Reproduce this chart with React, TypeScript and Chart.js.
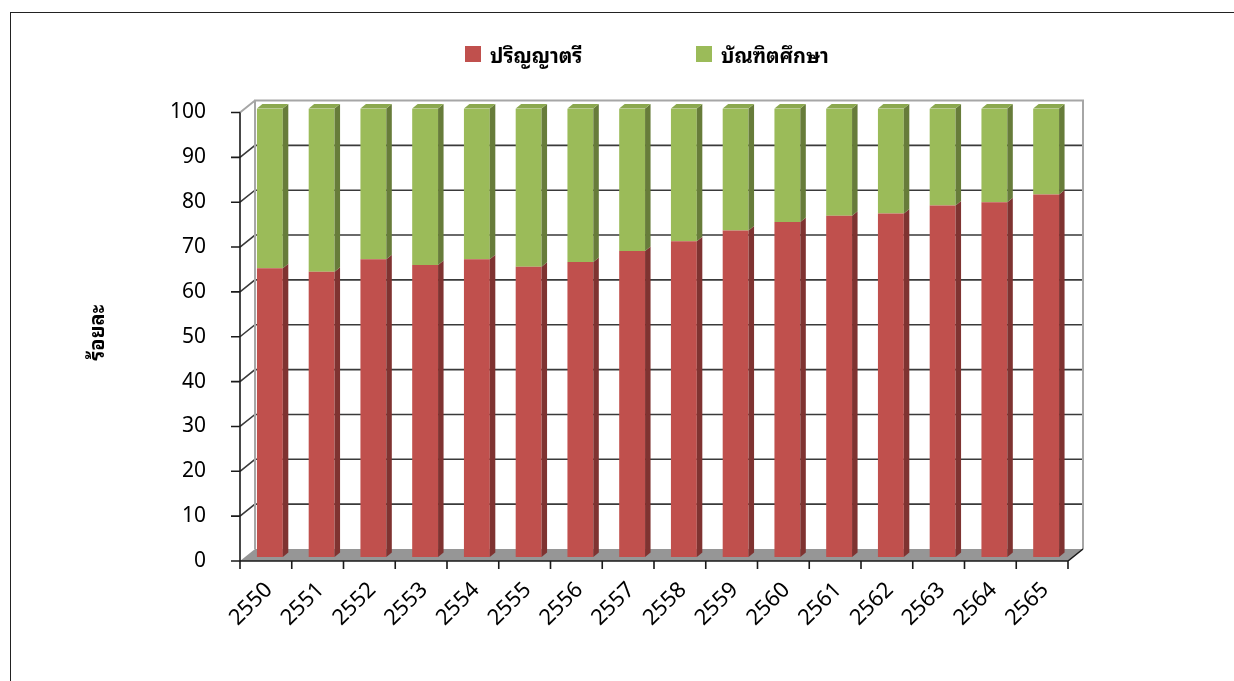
import React, { useEffect, useRef } from "react";
import { Chart, registerables } from "chart.js";

Chart.register(...registerables);

const years = ["2550", "2551", "2552", "2553", "2554", "2555", "2556", "2557", "2558", "2559", "2560", "2561", "2562", "2563", "2564", "2565"];
const bachelor = [64.4, 63.6, 66.4, 65.1, 66.4, 64.7, 65.8, 68.2, 70.4, 72.8, 74.7, 76.1, 76.6, 78.4, 79.1, 80.8];
const graduate = [35.6, 36.4, 33.6, 34.9, 33.6, 35.3, 34.2, 31.8, 29.6, 27.2, 25.3, 23.9, 23.4, 21.6, 20.9, 19.2];
const seriesNames = ["ปริญญาตรี", "บัณฑิตศึกษา"];
const yTitle = "ร้อยละ";

const RED = "#C0504D";
const GREEN = "#9BBB59";
const RED_SIDE = "#7F3331";
const GREEN_SIDE = "#677C3A";
const GREEN_TOP = "#8BA84F";
const THAI_FONT = "Tahoma, 'Noto Sans Thai Looped', 'Noto Sans Thai', 'Noto Sans', 'DejaVu Sans', sans-serif";
const NUM_FONT = "'Noto Sans', 'Open Sans', sans-serif";

// depth offsets relative to the bar-face plane
const FRONT = { dx: -4, dy: 4 };
const BACK = { dx: 11, dy: -8 };
const BAR_DEPTH = { dx: 5.5, dy: -4.5 };

const frame3d = {
  id: "frame3d",
  beforeDatasetsDraw(chart: any) {
    const { ctx, chartArea } = chart;
    const y = chart.scales.y;
    const x = chart.scales.x;
    const L = chartArea.left, R = chartArea.right;
    const y0 = y.getPixelForValue(0);
    const y100 = y.getPixelForValue(100);
    ctx.save();
    // floor
    ctx.fillStyle = "#969696";
    ctx.beginPath();
    ctx.moveTo(L + FRONT.dx, y0 + FRONT.dy);
    ctx.lineTo(R + FRONT.dx, y0 + FRONT.dy);
    ctx.lineTo(R + BACK.dx, y0 + BACK.dy);
    ctx.lineTo(L + BACK.dx, y0 + BACK.dy);
    ctx.closePath();
    ctx.fill();
    // gridlines (back wall + left wall)
    ctx.strokeStyle = "#3a3a3a";
    ctx.lineWidth = 1.6;
    for (let v = 10; v < 100; v += 10) {
      const py = y.getPixelForValue(v);
      ctx.beginPath();
      ctx.moveTo(L + FRONT.dx, py + FRONT.dy);
      ctx.lineTo(L + BACK.dx, py + BACK.dy);
      ctx.lineTo(R + BACK.dx, py + BACK.dy);
      ctx.stroke();
    }
    // back wall border
    ctx.strokeStyle = "#a6a6a6";
    ctx.lineWidth = 2;
    ctx.beginPath();
    ctx.moveTo(L + BACK.dx, y0 + BACK.dy);
    ctx.lineTo(L + BACK.dx, y100 + BACK.dy);
    ctx.lineTo(R + BACK.dx, y100 + BACK.dy);
    ctx.lineTo(R + BACK.dx, y0 + BACK.dy);
    ctx.moveTo(L + FRONT.dx, y100 + FRONT.dy);
    ctx.lineTo(L + BACK.dx, y100 + BACK.dy);
    ctx.stroke();
    // front axes
    ctx.strokeStyle = "#1a1a1a";
    ctx.lineWidth = 1.6;
    ctx.beginPath();
    ctx.moveTo(L + FRONT.dx, y100 + FRONT.dy);
    ctx.lineTo(L + FRONT.dx, y0 + FRONT.dy);
    ctx.lineTo(R + FRONT.dx, y0 + FRONT.dy);
    ctx.lineTo(R + BACK.dx, y0 + BACK.dy);
    for (let v = 0; v <= 100; v += 10) {
      const py = y.getPixelForValue(v) + FRONT.dy;
      ctx.moveTo(L + FRONT.dx - 9, py);
      ctx.lineTo(L + FRONT.dx, py);
    }
    const n = x.getLabels().length;
    const step = (R - L) / n;
    for (let i = 0; i <= n; i++) {
      const px = L + i * step + FRONT.dx;
      ctx.moveTo(px, y0 + FRONT.dy);
      ctx.lineTo(px, y0 + FRONT.dy + 8);
    }
    ctx.stroke();
    ctx.restore();
  },
  afterDatasetsDraw(chart: any) {
    const { ctx } = chart;
    const nds = chart.data.datasets.length;
    ctx.save();
    chart.data.datasets.forEach((ds: any, di: number) => {
      const meta = chart.getDatasetMeta(di);
      meta.data.forEach((bar: any) => {
        const { x, y, base, width } = bar.getProps(["x", "y", "base", "width"], true);
        const left = x - width / 2;
        const right = x + width / 2;
        const top = Math.min(y, base);
        const bottom = Math.max(y, base);
        ctx.fillStyle = ds.sideColor;
        ctx.beginPath();
        ctx.moveTo(right, bottom);
        ctx.lineTo(right, top);
        ctx.lineTo(right + BAR_DEPTH.dx, top + BAR_DEPTH.dy);
        ctx.lineTo(right + BAR_DEPTH.dx, bottom + BAR_DEPTH.dy);
        ctx.closePath();
        ctx.fill();
        if (di === nds - 1) {
          ctx.fillStyle = ds.topColor;
          ctx.beginPath();
          ctx.moveTo(left, top);
          ctx.lineTo(left + BAR_DEPTH.dx, top + BAR_DEPTH.dy);
          ctx.lineTo(right + BAR_DEPTH.dx, top + BAR_DEPTH.dy);
          ctx.lineTo(right, top);
          ctx.closePath();
          ctx.fill();
        }
      });
    });
    ctx.restore();
  },
};

function ChartCanvas() {
  const ref = useRef<HTMLCanvasElement | null>(null);
  useEffect(() => {
    if (!ref.current) return;
    const chart = new Chart(ref.current, {
      type: "bar",
      data: {
        labels: years,
        datasets: [
          { label: seriesNames[0], data: bachelor, backgroundColor: RED, sideColor: RED_SIDE, topColor: RED, borderWidth: 0, barPercentage: 0.5, categoryPercentage: 1 } as any,
          { label: seriesNames[1], data: graduate, backgroundColor: GREEN, sideColor: GREEN_SIDE, topColor: GREEN_TOP, borderWidth: 0, barPercentage: 0.5, categoryPercentage: 1 } as any,
        ],
      },
      options: {
        animation: false,
        responsive: false,
        maintainAspectRatio: false,
        layout: { padding: { left: 0, right: 162, top: 108.5, bottom: 0 } },
        plugins: { legend: { display: false }, tooltip: { enabled: false } },
        scales: {
          x: {
            stacked: true,
            grid: { display: false, drawTicks: false },
            border: { display: false },
            ticks: {
              autoSkip: false,
              minRotation: 45,
              maxRotation: 45,
              padding: 20,
              labelOffset: -1,
              color: "#000",
              font: { family: NUM_FONT, size: 22 },
            },
            afterFit: (s: any) => {
              s.height = 124;
            },
          },
          y: {
            stacked: true,
            min: 0,
            max: 100,
            grid: { display: false, drawTicks: false },
            border: { display: false },
            ticks: {
              stepSize: 10,
              padding: 38,
              labelOffset: 4,
              color: "#000",
              font: { family: NUM_FONT, size: 21 },
            },
            title: {
              display: true,
              text: yTitle,
              color: "#000",
              font: { family: THAI_FONT, size: 20, weight: "bold" },
              padding: { top: 86, bottom: 0 },
            },
            afterFit: (s: any) => {
              s.width = 244;
            },
          },
        },
      } as any,
      plugins: [frame3d],
    });
    return () => chart.destroy();
  }, []);
  return <canvas ref={ref} width={1234} height={681} style={{ position: "absolute", left: 0, top: 0, width: 1234, height: 681 }} />;
}

function LegendItem({ color, text, left }: { color: string; text: string; left: number }) {
  return (
    <div style={{ position: "absolute", left, top: 40, height: 28, display: "flex", alignItems: "center" }}>
      <span style={{ display: "inline-block", width: 16, height: 16, background: color, marginRight: 9 }} />
      <span style={{ fontFamily: THAI_FONT, fontWeight: "bold", fontSize: 20, color: "#000", whiteSpace: "nowrap" }}>{text}</span>
    </div>
  );
}

export default function App() {
  return (
    <div style={{ position: "fixed", left: 0, top: 0, width: 1234, height: 681, background: "#fff", overflow: "hidden" }}>
      <div style={{ position: "absolute", left: 10, top: 12, width: 1300, height: 800, borderLeft: "1px solid #222", borderTop: "1px solid #222" }} />
      <ChartCanvas />
      <LegendItem color={RED} text={seriesNames[0]} left={465} />
      <LegendItem color={GREEN} text={seriesNames[1]} left={696} />
    </div>
  );
}
